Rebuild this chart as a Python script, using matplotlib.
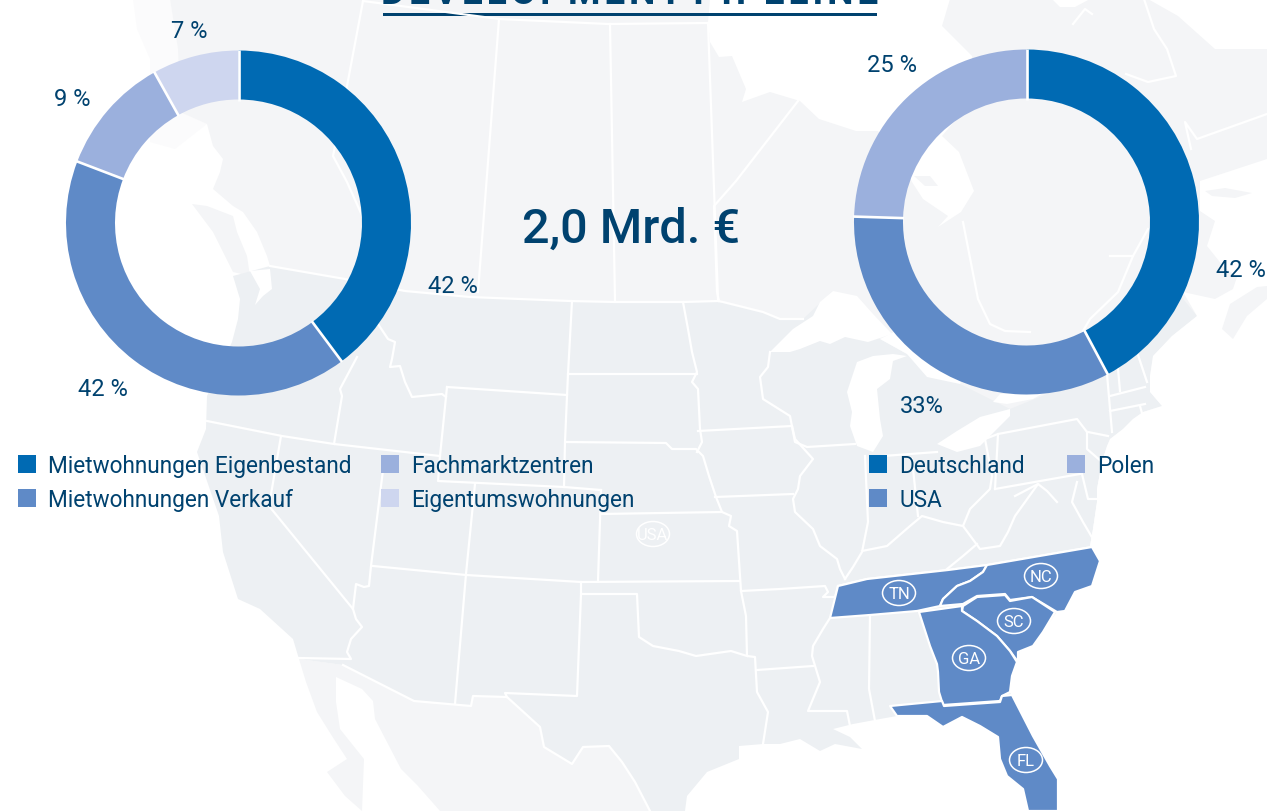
#!/usr/bin/env python3
import numpy as np
import matplotlib
matplotlib.use('Agg')
import matplotlib.pyplot as plt
from matplotlib.patches import Polygon, Rectangle, Ellipse

W, H = 1267, 812
AZUL = '#00426F'
COL_PIE = ['#006AB3', '#5F8AC7', '#9BB0DD', '#CED6EF']
USA_COL = '#EDF0F3'
VECINO_COL = '#F4F5F7'
ESTADO_COL = '#5F8AC7'

# Datos de los anillos (porcion dibujada y rotulo impreso)
tipos = ['Mietwohnungen Eigenbestand', 'Mietwohnungen Verkauf', 'Fachmarktzentren', 'Eigentumswohnungen']
tipos_share = [39.8, 41.0, 11.1, 8.1]
tipos_rotulo = ['42 %', '42 %', '9 %', '7 %']
paises = ['Deutschland', 'USA', 'Polen']
paises_share = [42.2, 33.3, 24.5]
paises_rotulo = ['42 %', '33%', '25 %']

# Contornos del mapa de fondo, en pixeles
canada = [(170,0),(178,50),(180,113),(207,125),(213,147),(223,160),(220,173),(213,190),
          (233,207),(243,213),(257,233),(267,257),(270,267),(270,300),(700,340),(1000,450),(1267,450),(1267,0)]
costa_palida = [(133,0),(137,30),(150,60),(150,143),(175,150),(207,125),(180,113),(178,50),(170,0)]
isla_vancouver = [(192,205),(207,207),(233,217),(237,233),(247,257),(250,277),(233,273),(223,253),(213,233)]
mexico = [(299,660),(343,666),(414,702),(471,707),(473,697),(507,698),(540,728),(544,748),(572,765),(583,748),
          (609,747),(622,763),(635,783),(650,812),(362,812),(345,797),(327,773),(347,760),(332,737),(317,713),(306,683)]
golfo_california = [(336,678),(362,690),(373,702),(375,720),(401,770),(418,787),(440,812),(362,812),(364,760),(340,730),(336,703)]
usa = [(270,267),(345,280),(405,292),(470,298),(570,302),(615,303),(683,303),(718,302),(723,303),(763,313),(780,320),
       (803,320),(833,292),(880,340),(960,385),(1010,410),(1047,395),(1085,350),(1120,340),(1150,330),(1175,290),
       (1197,317),(1172,337),(1153,357),(1150,377),(1150,393),(1162,407),(1143,413),(1133,420),(1123,430),(1110,440),
       (1107,447),(1102,463),(1097,490),
       (1097,503),(1093,530),(1090,547),(1100,562),(1092,587),(1075,593),(1057,613),(1043,633),(1020,653),(1012,673),
       (1010,693),(1033,737),(1050,767),(1058,780),(1058,812),(1028,812),(1023,790),(1007,777),(1000,760),(998,738),
       (980,727),(962,718),(943,728),(927,717),(897,717),(880,720),(853,725),(833,730),(850,738),(862,750),(835,745),
       (820,752),(800,740),(780,745),(763,745),(739,747),(739,760),(707,773),(687,797),(685,812),(650,812),(635,783),(622,763),
       (609,747),(583,748),(572,765),(544,748),(540,728),(507,698),(473,697),(471,707),(414,702),(343,666),(299,660),
       (293,640),(260,610),(238,600),(223,553),(219,517),(197,453),(206,430),(207,397),(232,343),(238,320),(240,300),(233,277)]
puget = [(250,272),(270,270),(272,290),(263,297),(255,306),(260,290)]

# Agua
hudson = [(710,0),(708,23),(710,43),(719,58),(732,57),(746,90),(742,103),(770,93),(800,102),(819,120),(856,132),
          (878,132),(900,160),(912,183),(923,200),(948,217),(938,228),(961,213),(974,192),(959,153),(942,137),
          (965,110),(975,85),(972,57),(942,27),(950,0)]
golfo_norte = [(1148,0),(1178,17),(1215,50),(1267,50),(1267,0)]
superior = [(770,353),(793,330),(813,317),(820,303),(833,292),(857,297),(873,315),(892,335),(868,343),(845,338),
            (830,345),(820,342),(800,350),(790,353)]
michigan = [(857,363),(847,393),(852,413),(850,427),(857,447),(873,453),(883,437),(880,420),(877,390),(890,380),
            (893,362),(907,357),(893,355),(873,357)]
huron = [(880,340),(907,355),(927,378),(960,385),(968,372),(960,340),(900,330)]
erie = [(937,445),(957,432),(980,418),(1010,410),(1010,417),(997,430),(980,447),(957,453)]
ontario = [(993,403),(1000,395),(1047,392),(1033,400),(1007,405)]
inlet = [(1052,0),(1060,8),(1075,8),(1090,0)]
atlantico = [(1267,160),(1200,182),(1200,212),(1215,222),(1207,247),(1223,267),(1237,278),(1233,290),(1215,300),
             (1183,293),(1197,317),(1172,337),(1153,357),(1150,377),(1150,393),(1162,407),(1143,413),(1133,420),
             (1123,430),(1110,440),(1107,447),(1102,463),(1097,490),(1097,503),(1093,530),
             (1090,547),(1100,562),(1092,587),(1075,593),(1057,613),(1043,633),(1020,653),(1012,673),(1010,693),
             (1033,737),(1050,767),(1058,780),(1058,812),(1267,812)]
nueva_escocia = [(1222,330),(1230,305),(1257,288),(1267,287),(1267,300),(1247,317),(1233,340)]
anticosti = [(1205,192),(1225,189),(1252,194),(1235,199),(1212,197)]
akimiski = [(914,177),(930,177),(938,187),(925,187)]

# Fronteras blancas
fronteras = [
    [(363,2),(499,20),(608,25),(708,24)],
    [(363,2),(347,87),(333,157),(347,183),(395,290)],
    [(499,20),(478,293)],
    [(610,25),(615,302)],
    [(708,24),(718,300)],
    [(798,102),(736,182),(714,207),(717,293),(719,302)],
    [(963,223),(978,300),(990,325),(1005,332),(1030,333)],
    [(1148,230),(1133,257),(1118,293),(1090,320),(1083,332)],
    [(1110,257),(1133,257)],
    [(1144,0),(1154,30),(1167,50),(1176,77),(1148,83),(1126,75)],
    [(1267,115),(1197,140),(1185,123),(1191,150)],
    [(1073,25),(1085,10),(1092,15)],
    [(270,267),(345,280),(405,292),(470,298),(570,302),(615,303),(683,303),(718,302),(723,303),(763,313),(780,320),(803,320)],
    [(572,302),(568,375),(567,397),(565,443),(564,488)],
    [(568,375),(697,375)],
    [(683,303),(688,330),(692,353),(697,373),(692,383),(698,390),(700,430),(702,443),(697,453)],
    [(566,443),(666,444),(672,450),(696,450),(703,457),(709,477),(716,498),(722,513),(731,517),(729,527),(737,532),
     (741,592),(746,617),(747,657),(755,658),(757,693),(768,713),(763,745)],
    [(447,388),(567,396)],
    [(447,388),(440,457),(438,482),(564,488),(601,491)],
    [(378,325),(388,340),(395,343),(392,360),(390,368),(400,367),(405,383),(412,398),(442,395),(446,398)],
    [(357,358),(340,390),(342,397),(334,445)],
    [(207,422),(282,437),(334,445),(440,457)],
    [(281,437),(269,507),(353,610),(356,620),(362,628),(351,640),(347,653),(351,660),(299,659)],
    [(384,463),(371,567),(369,587),(364,588),(356,585),(353,610)],
    [(475,485),(466,575),(455,705)],
    [(373,567),(466,576),(581,583),(739,582)],
    [(601,491),(598,582)],
    [(601,515),(722,513)],
    [(581,583),(581,595),(637,595),(639,638),(653,647),(679,652),(696,657),(731,652),(747,657)],
    [(581,595),(577,697),(505,694),(507,698)],
    [(343,666),(414,702),(471,707),(473,697),(507,698),(540,728),(544,748),(572,765),(583,748),(609,747),(622,763),(635,783),(650,812)],
    [(770,353),(768,368),(760,378),(763,400),(790,417),(795,443),(807,448),(855,445)],
    [(698,432),(792,427)],
    [(715,498),(793,495)],
    [(792,427),(795,440),(813,460),(800,477),(798,490),(793,500),(795,513),(813,530),(820,547),(837,560),(840,570),(845,580)],
    [(865,457),(868,523),(862,553),(853,568),(845,580)],
    [(912,460),(918,517)],
    [(883,457),(937,453)],
    [(862,552),(887,547),(910,527),(922,517),(943,523),(963,527),(970,510),(990,490),(992,477),(985,440)],
    [(985,440),(998,435),(1077,420),(1087,433),(1087,450),(1102,463)],
    [(995,490),(1080,475)],
    [(998,435),(995,490)],
    [(1088,433),(1108,437)],
    [(1107,375),(1112,433)],
    [(1110,397),(1145,388)],
    [(1110,412),(1145,405)],
    [(1140,407),(1143,418)],
    [(1118,370),(1120,392)],
    [(1137,353),(1147,383)],
    [(1038,485),(1015,517),(1008,533),(1000,547),(980,550),(963,527)],
    [(1015,497),(1038,485),(1047,492),(1057,503)],
    [(1082,475),(1088,500),(1097,500)],
    [(1077,483),(1072,503),(1083,523),(1093,540)],
    [(977,545),(963,557),(947,570)],
    [(741,592),(780,590),(825,587),(828,593),(823,598),(835,598),(838,587)],
    [(830,619),(823,630),(813,647),(812,657),(820,683),(808,712),(847,712),(850,727)],
    [(757,671),(813,667)],
    [(870,616),(869,690),(875,722)],
    [(838,587),(867,580),(948,571),(987,566),(1092,548)],
]

# Estados con proyectos
tn = [(830,619),(838,587),(867,580),(948,571),(987,566),(983,573),(970,582),(957,587),(943,600),(940,607),(917,612),(870,616)]
nc = [(987,566),(1092,548),(1100,562),(1092,587),(1075,593),(1065,612),(1057,613),(1032,598),(1010,601),(1005,595),
      (977,597),(963,605),(940,607),(943,600),(957,587),(970,582),(983,573)]
sc = [(963,607),(977,598),(1005,596),(1010,602),(1032,598),(1055,613),(1043,633),(1033,647),(1018,653),(1018,663),
      (1010,652),(997,637),(977,622),(962,612)]
ga = [(919,613),(962,607),(962,612),(977,622),(997,637),(1010,652),(1017,663),(1012,677),(1010,693),(1002,697),
      (1000,702),(943,706),(939,693),(938,673),(937,665),(930,647)]
fl = [(890,707),(942,702),(944,707),(1000,703),(1002,697),(1012,696),(1033,737),(1050,767),(1058,780),(1058,812),
      (1028,812),(1023,790),(1007,777),(1000,760),(998,738),(980,727),(962,718),(943,728),(927,717),(897,717)]
estados = [tn, nc, sc, ga, fl]
ovalos = [('TN',899,594),('NC',1041,577),('SC',1014,622),('GA',969,659),('FL',1026,761),('USA',653,535)]


def anillo(cx, cy, share, colores):
    r = 172.5
    m = 1.03
    lado = 2*r*m
    ax_p = fig.add_axes([(cx-lado/2)/W, 1-(cy+lado/2)/H, lado/W, lado/H])
    ax_p.pie(share, colors=colores, startangle=90, counterclock=False, radius=1,
             wedgeprops=dict(width=49/r, linewidth=0))
    ax_p.set_xlim(-m, m)
    ax_p.set_ylim(-m, m)
    ax_p.patch.set_alpha(0)
    # separadores solo entre porciones, sin halo en el borde
    corte = np.concatenate([[0], np.cumsum(share)[:-1]])/np.sum(share)
    for c in corte:
        ang = np.pi/2 - 2*np.pi*c
        ax_p.plot([0.71*np.cos(ang), 1.005*np.cos(ang)], [0.71*np.sin(ang), 1.005*np.sin(ang)],
                  color='white', lw=1.9, solid_capstyle='butt')


plt.rcParams['font.family'] = ['Roboto', 'DejaVu Sans']
fig = plt.figure(figsize=(W/100, H/100), dpi=100, facecolor='white')
ax = fig.add_axes([0, 0, 1, 1])
ax.set_xlim(0, W)
ax.set_ylim(H, 0)
ax.axis('off')

ax.add_patch(Polygon(costa_palida, closed=True, fc='#FBFBFC', ec='none'))
for pts, c in [(canada, VECINO_COL), (isla_vancouver, VECINO_COL), (mexico, VECINO_COL), (usa, USA_COL)]:
    ax.add_patch(Polygon(pts, closed=True, fc=c, ec='none'))
for pts in [hudson, golfo_norte, superior, michigan, huron, erie, ontario, inlet, atlantico, puget, golfo_california]:
    ax.add_patch(Polygon(pts, closed=True, fc='white', ec='none'))
for pts in [nueva_escocia, anticosti, akimiski]:
    ax.add_patch(Polygon(pts, closed=True, fc=VECINO_COL, ec='none'))
for f in fronteras:
    ax.plot([p[0] for p in f], [p[1] for p in f], color='white', lw=1.6, solid_joinstyle='round')
for pts in estados:
    ax.add_patch(Polygon(pts, closed=True, fc=ESTADO_COL, ec='white', lw=1.6, joinstyle='round', zorder=3))
for nombre, x, y in ovalos:
    ax.add_patch(Ellipse((x, y), 33, 25, fc='none', ec='white', lw=1.1, zorder=4))
    ax.text(x, y+0.5, nombre, color='white', fontsize=12, ha='center', va='center', zorder=5)

# Titulo cortado por el borde superior
ax.text(630, 4.5, 'D E V E L O P M E N T   P I P E L I N E'.replace(' ', '\u200a'), color=AZUL, fontsize=26.8,
        fontweight='bold', ha='center', va='baseline')
ax.add_patch(Rectangle((383, 13.8), 494, 2.8, fc=AZUL, ec='none'))
ax.text(631, 243, '2,0 Mrd. €', color=AZUL, fontsize=35, fontweight='medium', ha='center', va='baseline')

anillo(238.5, 224, tipos_share, COL_PIE)
anillo(1026.5, 223, paises_share, COL_PIE[:3])

for t, (x, y) in zip(tipos_rotulo, [(453,293), (103,396), (72,106), (189,37.5)]):
    ax.text(x, y, t, color=AZUL, fontsize=17, ha='center', va='baseline')
for t, (x, y) in zip(paises_rotulo, [(1241,277), (922,413), (892,72)]):
    ax.text(x, y, t, color=AZUL, fontsize=17, ha='center', va='baseline')

# Leyendas
pos_tipos = [(18,456), (18,490), (381,456), (381,490)]
for nombre, c, (x, y) in zip(tipos, COL_PIE, pos_tipos):
    ax.add_patch(Rectangle((x, y), 18, 18, fc=c, ec='none', zorder=4))
    ax.text(x+30.5, y+17.2, nombre, color=AZUL, fontsize=16.3, va='baseline', zorder=5)
pos_paises = [(869,456), (869,490), (1067,456)]
for nombre, c, (x, y) in zip(paises, COL_PIE, pos_paises):
    ax.add_patch(Rectangle((x, y), 18, 18, fc=c, ec='none', zorder=4))
    ax.text(x+30.5, y+17.2, nombre, color=AZUL, fontsize=16.3, va='baseline', zorder=5)

plt.savefig('out.png', dpi=100)
plt.close()
